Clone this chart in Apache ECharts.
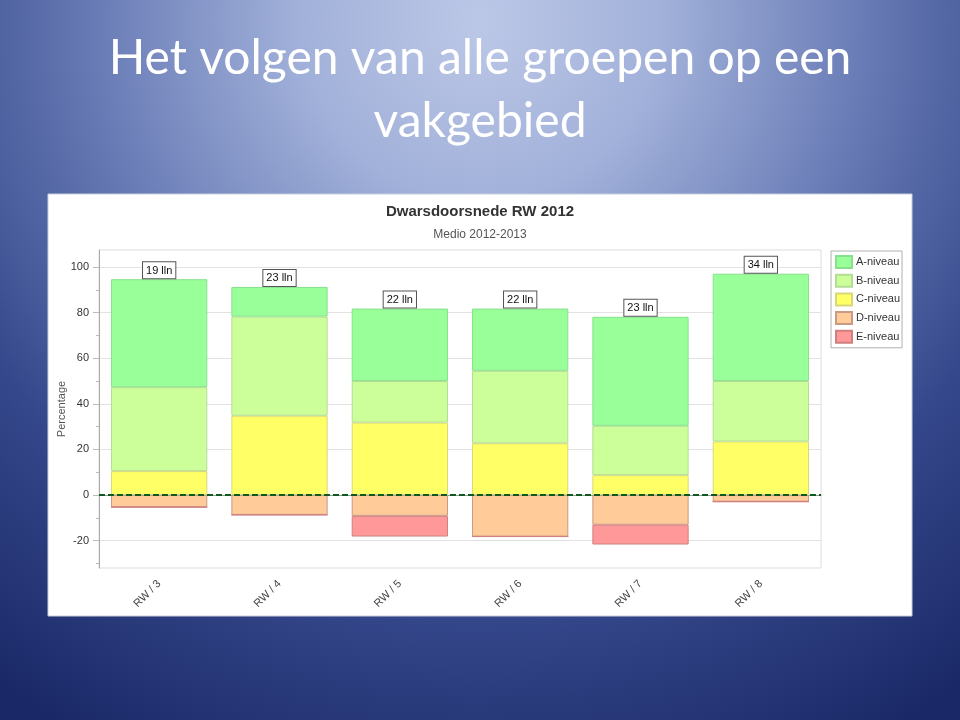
<!DOCTYPE html>
<html>
<head>
<meta charset="utf-8">
<script src="https://cdn.jsdelivr.net/npm/echarts@6/dist/echarts.min.js"></script>
<style>
html,body{margin:0;padding:0;width:960px;height:720px;overflow:hidden;}
#c{width:960px;height:720px;}
</style>
</head>
<body>
<div id="c"></div>
<script>
// ---- data ----
const categories = ['RW / 3', 'RW / 4', 'RW / 5', 'RW / 6', 'RW / 7', 'RW / 8'];
const groupLabels = ['19 lln', '23 lln', '22 lln', '22 lln', '23 lln', '34 lln'];
const aNiveau = [47.4, 13.0, 31.8, 27.3, 47.8, 47.1];
const bNiveau = [36.8, 43.5, 18.2, 31.8, 21.7, 26.5];
const cNiveau = [10.5, 34.8, 31.8, 22.7, 8.7, 23.5];
const dNiveau = [-5.3, -8.7, -9.1, -18.2, -13.0, -2.9];
const eNiveau = [0, 0, -9.1, 0, -8.7, 0];
const yTickValues = [-20, 0, 20, 40, 60, 80, 100];
const yMinorTickValues = [-30, -10, 10, 30, 50, 70, 90];
const legendNames = ['A-niveau', 'B-niveau', 'C-niveau', 'D-niveau', 'E-niveau'];
const chartTitle = 'Dwarsdoorsnede RW 2012';
const chartSubtitle = 'Medio 2012-2013';
const slideTitleLines = ['Het volgen van alle groepen op een', 'vakgebied'];

const chart = echarts.init(document.getElementById('c'), null, {renderer: 'canvas'});

function barSeries(name, data, color, border, extra) {
  return Object.assign({
    name: name,
    type: 'bar',
    stack: 'total',
    data: data,
    barCategoryGap: '20%',
    itemStyle: {color: color, borderColor: border, borderWidth: 1},
    emphasis: {disabled: true}
  }, extra || {});
}

const titleStyle = {fill: '#ffffff', font: 'normal 48px Lato', align: 'center', verticalAlign: 'middle'};

const option = {
  animation: false,
  backgroundColor: {
    type: 'radial', x: 480, y: 20, r: 820, global: true,
    colorStops: [
      {offset: 0, color: '#bcc8e7'},
      {offset: 0.22, color: '#a2b1da'},
      {offset: 0.48, color: '#6679b4'},
      {offset: 0.72, color: '#35488b'},
      {offset: 1, color: '#1a2867'}
    ]
  },
  graphic: [
    {
      type: 'rect', z: -10, silent: true,
      shape: {x: 48, y: 194, width: 864, height: 422},
      style: {fill: '#ffffff', stroke: '#c9cfdc', lineWidth: 1}
    },
    {
      type: 'text', silent: true, x: 480, y: 59,
      style: Object.assign({text: slideTitleLines[0]}, titleStyle)
    },
    {
      type: 'text', silent: true, x: 480, y: 122,
      style: Object.assign({text: slideTitleLines[1]}, titleStyle)
    }
  ],
  title: [
    {
      text: chartTitle, left: 'center', top: 199,
      textStyle: {color: '#333333', fontFamily: 'Liberation Sans', fontWeight: 'bold', fontSize: 15}
    },
    {
      text: chartSubtitle, left: 'center', top: 224,
      textStyle: {color: '#555555', fontFamily: 'Liberation Sans', fontWeight: 'normal', fontSize: 12}
    }
  ],
  legend: {
    data: legendNames,
    orient: 'vertical',
    left: 831, top: 251,
    padding: [4, 2, 4, 4],
    icon: 'rect',
    itemWidth: 16, itemHeight: 12, itemGap: 4.7,
    backgroundColor: '#ffffff',
    borderColor: '#b0b0b0', borderWidth: 1,
    textStyle: {fontFamily: 'Liberation Sans', fontSize: 11, color: '#333333', padding: [0, 0, 0, -1]},
    selectedMode: false
  },
  grid: {
    left: 99, right: 139, top: 250, bottom: 152,
    show: true, borderColor: '#dddddd', borderWidth: 1, backgroundColor: 'transparent'
  },
  xAxis: {
    type: 'category',
    data: categories,
    axisLine: {lineStyle: {color: '#999999'}},
    axisTick: {alignWithLabel: true, length: 5, lineStyle: {color: '#aaaaaa'}},
    axisLabel: {rotate: 45, margin: 14, fontFamily: 'Liberation Sans', fontSize: 11, color: '#444444'},
    splitLine: {show: false}
  },
  yAxis: [
    {
      type: 'value', min: -32, max: 107.5,
      name: 'Percentage', nameLocation: 'middle', nameGap: 32, nameRotate: 90,
      nameMoveOverlap: false,
      nameTextStyle: {fontFamily: 'Liberation Sans', fontSize: 11, color: '#555555'},
      axisLine: {show: true, lineStyle: {color: '#aaaaaa'}},
      axisTick: {show: true, customValues: yTickValues, length: 6, lineStyle: {color: '#bbbbbb'}},
      axisLabel: {customValues: yTickValues, margin: 10, fontFamily: 'Liberation Sans', fontSize: 11, color: '#333333'},
      splitLine: {show: true, lineStyle: {color: '#e2e2e2', width: 1}}
    },
    {
      type: 'value', min: -32, max: 107.5, position: 'left',
      axisLine: {show: false},
      axisTick: {show: true, customValues: yMinorTickValues, length: 3, lineStyle: {color: '#bbbbbb'}},
      axisLabel: {show: false},
      splitLine: {show: false}
    }
  ],
  series: [
    barSeries('C-niveau', cNiveau, '#ffff66', '#d8d87a'),
    barSeries('B-niveau', bNiveau, '#ccff99', '#b4dc94'),
    barSeries('A-niveau', aNiveau, '#99ff99', '#88e08c', {
      label: {
        show: true, position: 'top', distance: 1,
        formatter: function (p) { return groupLabels[p.dataIndex]; },
        fontFamily: 'Liberation Sans', fontSize: 11, color: '#111111',
        backgroundColor: '#ffffff', borderColor: '#555555', borderWidth: 1,
        padding: [3, 3, 2, 3]
      }
    }),
    barSeries('D-niveau', dNiveau, '#ffcc99', '#c89a84'),
    barSeries('E-niveau', eNiveau, '#ff9999', '#d07f80', {
      markLine: {
        silent: true, symbol: 'none', label: {show: false},
        lineStyle: {color: '#0e5a1e', type: [6, 3], width: 2},
        data: [{yAxis: 0}]
      }
    })
  ]
};
chart.setOption(option);
</script>
</body>
</html>
